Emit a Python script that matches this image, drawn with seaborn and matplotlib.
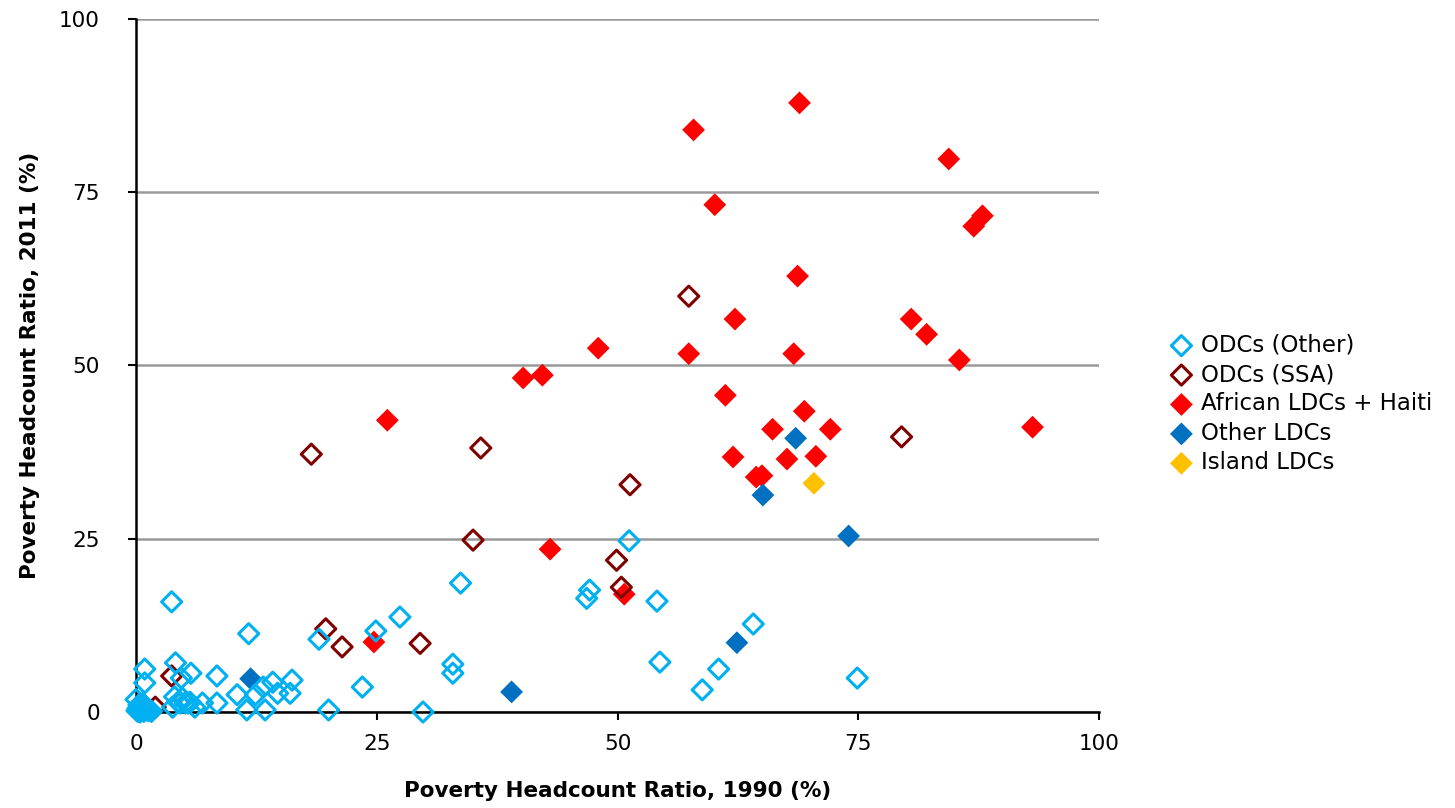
import matplotlib
matplotlib.use('Agg')
import matplotlib.pyplot as plt
import seaborn as sns
import pandas as pd

# poverty headcount ratios: (1990 %, 2011 %)
odc_other_1990 = [0.1, 0.2, 0.3, 0.5, 0.8, 1.0, 1.3, 1.6, 0.0, 0.4, 0.7, 0.9, 0.9,
                  0.2, 0.6, 1.1, 0.3, 0.9,
                  3.7, 4.1, 4.7, 5.7, 8.4, 11.7, 19.0, 24.9, 27.4, 33.7, 32.9, 32.9,
                  23.5, 20.0, 29.8, 11.5, 13.4, 8.4, 10.5, 12.4, 13.2, 14.2, 14.7,
                  16.0, 16.2, 3.8, 4.4, 4.8, 5.1, 5.6, 6.1, 6.9, 4.0, 4.6, 5.4,
                  47.1, 46.8, 54.1, 54.4, 58.8, 60.5, 64.1, 74.9, 51.2]
odc_other_2011 = [0.2, 0.5, 1.0, 0.3, 0.1, 0.6, 0.2, 0.1, 1.8, 0.0, 1.2, 6.2, 4.2,
                  0.1, 0.8, 0.3, 0.4, 0.9,
                  15.9, 7.1, 4.9, 5.6, 5.2, 11.3, 10.5, 11.7, 13.7, 18.6, 6.9, 5.6,
                  3.6, 0.3, 0.0, 0.3, 0.3, 1.3, 2.5, 2.5, 3.6, 4.3, 2.7,
                  2.7, 4.6, 0.7, 1.4, 2.0, 1.3, 1.4, 0.7, 1.3, 2.2, 1.3, 1.3,
                  17.6, 16.4, 16.0, 7.2, 3.2, 6.2, 12.7, 4.9, 24.7]

odc_ssa_1990 = [18.2, 35.8, 51.3, 35.0, 49.9, 50.4, 57.4, 79.5, 19.7, 21.4, 29.5, 3.7, 2.0]
odc_ssa_2011 = [37.2, 38.1, 32.8, 24.8, 21.9, 18.0, 60.0, 39.7, 12.0, 9.4, 9.9, 5.2, 0.7]

african_1990 = [68.9, 57.9, 84.4, 60.1, 87.9, 87.0, 68.7, 62.2, 80.5, 82.1, 57.4, 68.3,
                85.5, 61.2, 69.4, 66.1, 72.1, 93.1, 62.0, 67.6, 70.6, 64.4, 65.0,
                50.7, 43.0, 26.1, 40.2, 42.2, 48.0, 24.7]
african_2011 = [87.9, 84.0, 79.8, 73.2, 71.6, 70.1, 62.9, 56.7, 56.7, 54.5, 51.7, 51.7,
                50.8, 45.7, 43.4, 40.8, 40.8, 41.1, 36.8, 36.5, 36.9, 33.9, 34.1,
                17.0, 23.5, 42.1, 48.2, 48.6, 52.5, 10.1]

other_ldc_1990 = [11.9, 39.0, 62.4, 68.5, 65.1, 74.0]
other_ldc_2011 = [4.8, 2.9, 10.0, 39.5, 31.3, 25.4]

island_1990 = [70.4]
island_2011 = [33.0]

groups = ['ODCs (Other)', 'ODCs (SSA)', 'African LDCs + Haiti', 'Other LDCs', 'Island LDCs']
colors = ['#00B0F0', '#800000', '#FF0000', '#0070C0', '#FFC000']
hollow = [True, True, False, False, False]

df = pd.concat([
    pd.DataFrame({'x': odc_other_1990, 'y': odc_other_2011, 'group': groups[0]}),
    pd.DataFrame({'x': odc_ssa_1990, 'y': odc_ssa_2011, 'group': groups[1]}),
    pd.DataFrame({'x': african_1990, 'y': african_2011, 'group': groups[2]}),
    pd.DataFrame({'x': other_ldc_1990, 'y': other_ldc_2011, 'group': groups[3]}),
    pd.DataFrame({'x': island_1990, 'y': island_2011, 'group': groups[4]}),
])

sns.set_style('white')
plt.rcParams['text.color'] = 'black'
plt.rcParams['axes.labelcolor'] = 'black'

fig = plt.figure(figsize=(14.55, 8.08), dpi=100)
ax = fig.add_axes([0.0935, 0.1188, 0.6618, 0.8577])

# filled ones first, hollow ones drawn on top
draw_order = [2, 3, 4, 1, 0]
for i in draw_order:
    sub = df[df['group'] == groups[i]]
    if hollow[i]:
        sns.scatterplot(data=sub, x='x', y='y', marker='D', s=105, facecolor='none',
                        edgecolor=colors[i], linewidth=2.2, ax=ax, label=groups[i],
                        clip_on=False, zorder=4)
    else:
        sns.scatterplot(data=sub, x='x', y='y', marker='D', s=135, color=colors[i],
                        edgecolor='none', linewidth=0, ax=ax, label=groups[i],
                        clip_on=False, zorder=3)

ax.set_xlim(0, 100)
ax.set_ylim(0, 100)
ax.set_xticks([0, 25, 50, 75, 100])
ax.set_yticks([0, 25, 50, 75, 100])
ax.yaxis.grid(True, color='#999999', linewidth=1.8)
ax.xaxis.grid(False)
ax.set_axisbelow(True)

for s in ['top', 'right']:
    ax.spines[s].set_visible(False)
for s in ['left', 'bottom']:
    ax.spines[s].set_color('black')
    ax.spines[s].set_linewidth(1.8)
ax.tick_params(axis='both', direction='out', length=6, width=1.5, color='black',
               labelsize=15.5, labelcolor='black', left=True, bottom=True)
ax.tick_params(axis='y', pad=20)
ax.tick_params(axis='x', pad=10)

ax.set_xlabel('Poverty Headcount Ratio, 1990 (%)', fontsize=15.5, fontweight='bold', labelpad=19)
ax.set_ylabel('Poverty Headcount Ratio, 2011 (%)', fontsize=15.5, fontweight='bold', labelpad=14)

h, l = ax.get_legend_handles_labels()
lookup = dict(zip(l, h))
ax.legend([lookup[g] for g in groups], groups, loc='center left',
          bbox_to_anchor=(0.797, 0.5), bbox_transform=fig.transFigure,
          frameon=False, fontsize=16.5, handletextpad=0.3, labelspacing=0.28,
          handlelength=1.1, borderaxespad=0)

fig.savefig('out.png', dpi=100)
